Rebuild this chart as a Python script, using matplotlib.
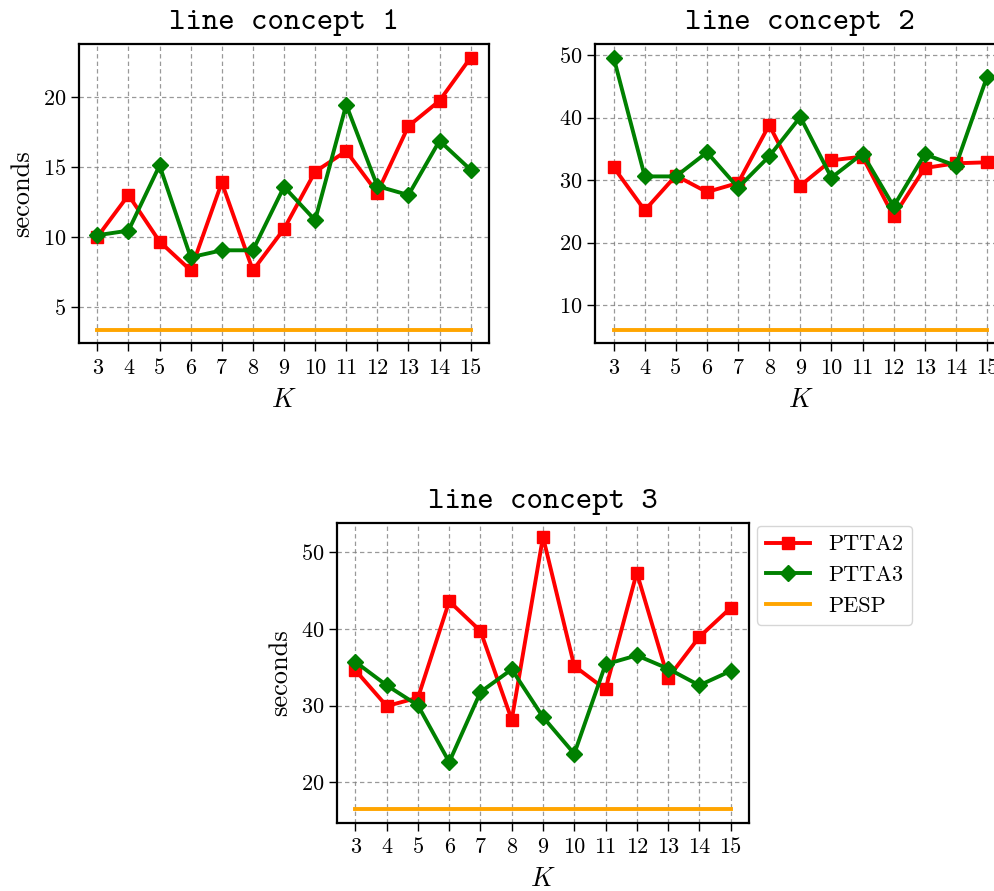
import matplotlib
matplotlib.use("Agg")
import matplotlib.pyplot as plt

K = [3, 4, 5, 6, 7, 8, 9, 10, 11, 12, 13, 14, 15]

ptta2_c1 = [10.0, 13.0, 9.67, 7.6, 13.9, 7.6, 10.57, 14.67, 16.15, 13.16, 17.94, 19.76, 22.85]
ptta3_c1 = [10.12, 10.45, 15.12, 8.54, 9.04, 9.04, 13.59, 11.2, 19.47, 13.64, 13.0, 16.89, 14.81]
pesp_c1 = 3.35

ptta2_c2 = [32.06, 25.17, 30.72, 28.1, 29.55, 38.84, 29.12, 33.18, 33.77, 24.2, 31.95, 32.7, 32.86]
ptta3_c2 = [49.63, 30.6, 30.6, 34.46, 28.8, 33.82, 40.12, 30.4, 34.25, 25.8, 34.14, 32.32, 46.53]
pesp_c2 = 6.05

ptta2_c3 = [34.59, 29.94, 31.03, 43.58, 39.71, 28.16, 51.96, 35.15, 32.11, 47.31, 33.59, 38.93, 42.71]
ptta3_c3 = [35.68, 32.64, 30.03, 22.65, 31.77, 34.72, 28.51, 23.73, 35.37, 36.54, 34.81, 32.64, 34.5]
pesp_c3 = 16.53

titles = ["line concept 1", "line concept 2", "line concept 3"]
series_labels = ["PTTA2", "PTTA3", "PESP"]

plt.rcParams["font.family"] = "cmr10"
plt.rcParams["mathtext.fontset"] = "cm"
plt.rcParams["axes.formatter.use_mathtext"] = True
plt.rcParams["axes.unicode_minus"] = False

W, H = 995, 891
fig = plt.figure(figsize=(W / 100, H / 100), dpi=100)

def px_axes(l, t, r, b):
    return fig.add_axes([l / W, 1 - b / H, (r - l) / W, (b - t) / H])

ax1 = px_axes(78.7, 44, 489.3, 343.3)
ax2 = px_axes(595, 44, 1005.6, 343.3)
ax3 = px_axes(336.7, 523.3, 749.3, 822.7)

data = [
    (ax1, ptta2_c1, ptta3_c1, pesp_c1, True),
    (ax2, ptta2_c2, ptta3_c2, pesp_c2, False),
    (ax3, ptta2_c3, ptta3_c3, pesp_c3, True),
]

for i, (ax, r, g, p, ylab) in enumerate(data):
    ax.plot(K, r, color="red", marker="s", markersize=8, linewidth=2.8, label=series_labels[0], zorder=3)
    ax.plot(K, g, color="green", marker="D", markersize=8, linewidth=2.8, label=series_labels[1], zorder=3)
    ax.plot(K, [p] * len(K), color="orange", linewidth=2.8, label=series_labels[2], zorder=3)
    ax.set_xticks(K)
    ax.set_xticklabels([str(k) for k in K])
    ax.grid(True, linestyle=(0, (3.5, 2.5)), color="gray", alpha=0.8, linewidth=0.9)
    ax.set_axisbelow(True)
    for s in ax.spines.values():
        s.set_linewidth(1.6)
    ax.tick_params(axis="both", labelsize=16, length=6.0, width=1.0)
    ax.tick_params(axis="x", pad=5)
    ax.tick_params(axis="y", pad=3)
    ax.set_xlabel("$K$", fontsize=19, labelpad=7)
    if ylab:
        ax.set_ylabel("seconds", fontsize=19, labelpad=6)
    ax.set_title(titles[i], fontsize=22.5, family="cmtt10", pad=11)

ax1.set_yticks([5, 10, 15, 20])
ax2.set_yticks([10, 20, 30, 40, 50])
ax3.set_yticks([20, 30, 40, 50])

ax3.legend(loc="upper left", bbox_to_anchor=(757 / W, 1 - 526 / H),
           bbox_transform=fig.transFigure, borderaxespad=0, fontsize=16,
           handlelength=2.0, framealpha=0.8, edgecolor="#cccccc", fancybox=True)

fig.savefig("out.png", dpi=100)
